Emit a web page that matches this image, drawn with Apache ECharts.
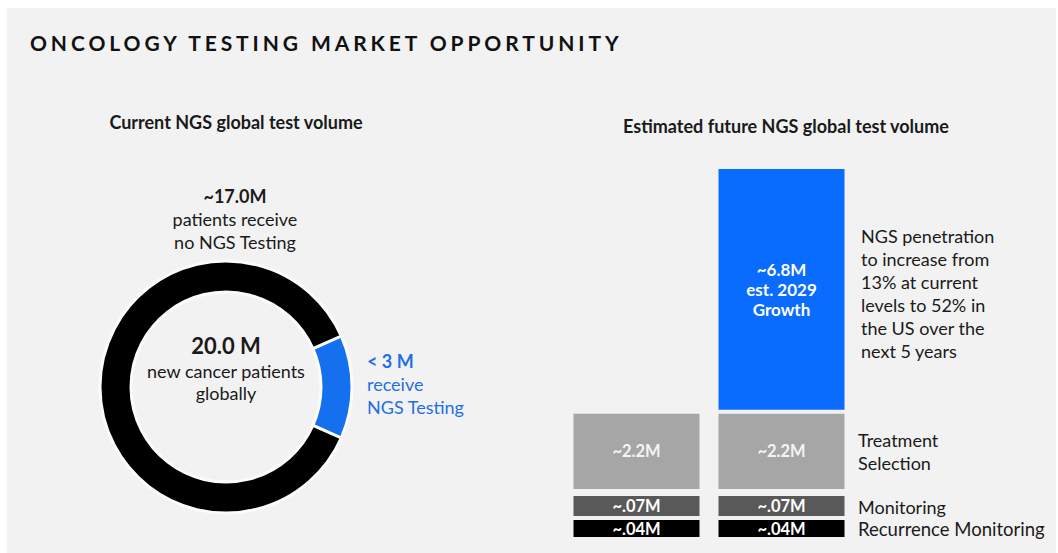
<!DOCTYPE html>
<html>
<head>
<meta charset="utf-8">
<script src="https://cdn.jsdelivr.net/npm/echarts@6/dist/echarts.min.js"></script>
<style>
  html, body { margin: 0; padding: 0; background: #ffffff; }
  #panel { position: absolute; left: 7px; top: 8px; right: 2px; bottom: 0; background: #f2f2f2; }
  #chart { position: absolute; left: 0; top: 0; width: 1058px; height: 553px; }
</style>
</head>
<body>
<div id="panel"></div>
<div id="chart"></div>
<script>
// Donut: current global picture (millions of new cancer patients)
const donutNames = ['receive NGS Testing', 'no NGS Testing'];
const donutValues = [2.6, 17.0];

// Stacked bars: current vs. estimated future NGS test volume (millions)
const barCategories = ['Current', 'Est. 2029'];
const recurrenceValues = [0.04, 0.04];
const monitoringValues = [0.07, 0.07];
const treatmentValues = [2.2, 2.2];
const growthValues = ['-', 6.8];

const FONT = 'Lato, "Open Sans", sans-serif';
const INK = '#1a1a1a';
const BG = '#f2f2f2';
const BLUE = '#0a6cff';

const fmtM = v => '~' + String(v).replace(/^0(?=\.)/, '') + 'M';

const donutTotal = donutValues.reduce((a, b) => a + b, 0);
const blueHalfAngle = 360 * donutValues[0] / donutTotal / 2;
const stackTop = Math.max(...treatmentValues.map((t, i) => t + (typeof growthValues[i] === 'number' ? growthValues[i] : 0)));

function txt(x, y, text, opts) {
  return {
    type: 'text', silent: true,
    style: Object.assign({
      x: x, y: y, text: text, fill: INK,
      font: '18px ' + FONT, align: 'left', verticalAlign: 'middle'
    }, opts || {})
  };
}

const barLabel = size => ({
  show: true, position: 'inside', color: '#f4f4f4',
  fontFamily: FONT, fontWeight: 'bold', fontSize: size
});

const xAx = gi => ({ type: 'category', data: barCategories, gridIndex: gi, show: false });
const yAx = (gi, max) => ({ type: 'value', gridIndex: gi, min: 0, max: max, show: false });

const chart = echarts.init(document.getElementById('chart'), null, { renderer: 'svg' });
chart.setOption({
  backgroundColor: 'transparent',
  animation: false,
  grid: [
    { left: 564, width: 290, top: 167, height: 324 },   // treatment + growth
    { left: 564, width: 290, top: 496, height: 20 },    // monitoring
    { left: 564, width: 290, top: 520, height: 17 }     // recurrence monitoring
  ],
  xAxis: [xAx(0), xAx(1), xAx(2)],
  yAxis: [yAx(0, stackTop), yAx(1, Math.max(...monitoringValues)), yAx(2, Math.max(...recurrenceValues))],
  series: [
    {
      type: 'pie', center: [226, 387], radius: [95, 126],
      startAngle: blueHalfAngle, clockwise: true,
      label: { show: false }, labelLine: { show: false }, silent: true,
      itemStyle: { borderColor: '#fbfbfb', borderWidth: 3 },
      data: [
        { name: donutNames[0], value: donutValues[0], itemStyle: { color: '#1570f0' } },
        { name: donutNames[1], value: donutValues[1], itemStyle: { color: '#000000' } }
      ]
    },
    {
      name: 'Treatment Selection', type: 'bar', stack: 'vol', xAxisIndex: 0, yAxisIndex: 0,
      barWidth: 130, data: treatmentValues,
      itemStyle: { color: '#a6a6a6', borderColor: BG, borderWidth: 2 },
      label: Object.assign(barLabel(16.5), { formatter: p => fmtM(p.value) })
    },
    {
      name: 'Growth', type: 'bar', stack: 'vol', xAxisIndex: 0, yAxisIndex: 0,
      barWidth: 130, data: growthValues,
      itemStyle: { color: BLUE, borderColor: BG, borderWidth: 2 },
      label: Object.assign(barLabel(17), { color: '#ffffff', lineHeight: 20,
        formatter: p => fmtM(p.value) + '\nest. 2029\nGrowth' })
    },
    {
      name: 'Monitoring', type: 'bar', xAxisIndex: 1, yAxisIndex: 1,
      barWidth: 126, data: monitoringValues,
      itemStyle: { color: '#595959' },
      label: Object.assign(barLabel(16.5), { color: '#ffffff', formatter: p => fmtM(p.value) })
    },
    {
      name: 'Recurrence Monitoring', type: 'bar', xAxisIndex: 2, yAxisIndex: 2,
      barWidth: 126, data: recurrenceValues,
      itemStyle: { color: '#000000' },
      label: Object.assign(barLabel(16.5), { color: '#ffffff', formatter: p => fmtM(p.value) })
    }
  ],
  graphic: [
    txt(30, 42, 'ONCOLOGY TESTING MARKET OPPORTUNITY', { font: 'bold 21px ' + FONT, fill: '#111111' }),
    txt(236, 122, 'Current NGS global test volume', { font: 'bold 18px ' + FONT, align: 'center' }),
    txt(786, 126, 'Estimated future NGS global test volume', { font: 'bold 18px ' + FONT, align: 'center' }),

    txt(235, 196, '~17.0M', { font: 'bold 18px ' + FONT, align: 'center' }),
    txt(235, 230.5, 'patients receive\nno NGS Testing', { align: 'center', lineHeight: 23 }),

    txt(226, 345, '20.0 M', { font: 'bold 22px ' + FONT, align: 'center' }),
    txt(226, 382, 'new cancer patients\nglobally', { align: 'center', lineHeight: 22 }),

    txt(367, 361, '< 3 M', { font: 'bold 18px ' + FONT, fill: '#1f6fe5' }),
    txt(367, 395.5, 'receive\nNGS Testing', { fill: '#1f6fe5', lineHeight: 23 }),

    txt(861, 293.5, 'NGS penetration\nto increase from\n13% at current\nlevels to 52% in\nthe US over the\nnext 5 years', { lineHeight: 23 }),

    txt(858, 451.5, 'Treatment\nSelection', { lineHeight: 23 }),
    txt(858, 507, 'Monitoring'),
    txt(858, 529, 'Recurrence Monitoring', { font: '18.5px ' + FONT })
  ]
});

// Spread the heading letters out (tracked caps)
const svg = document.querySelector('#chart svg');
if (svg) {
  svg.querySelectorAll('text').forEach(t => {
    if (t.textContent === 'ONCOLOGY TESTING MARKET OPPORTUNITY') {
      t.setAttribute('letter-spacing', '3.9');
    }
  });
}
</script>
</body>
</html>
